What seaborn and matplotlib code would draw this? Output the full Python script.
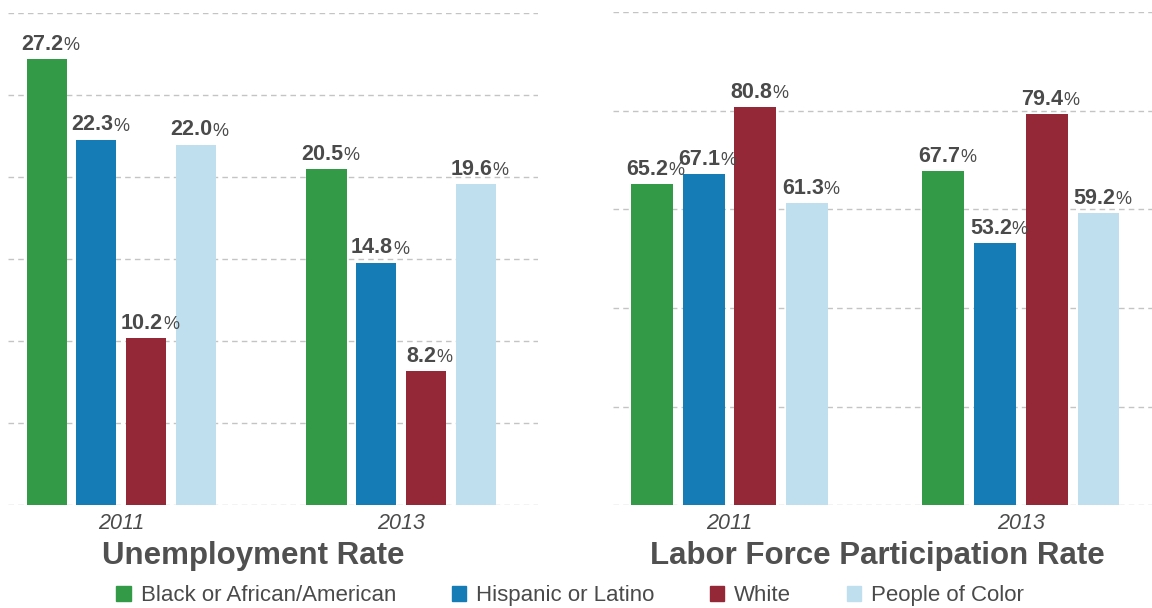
import matplotlib
matplotlib.use('Agg')
import matplotlib.pyplot as plt
import pandas as pd
import seaborn as sns

# данные
years = ['2011', '2013']
groups = ['Black or African/American', 'Hispanic or Latino', 'White', 'People of Color']
unemployment_2011 = [27.2, 22.3, 10.2, 22.0]
unemployment_2013 = [20.5, 14.8, 8.2, 19.6]
participation_2011 = [65.2, 67.1, 80.8, 61.3]
participation_2013 = [67.7, 53.2, 79.4, 59.2]

colors = ['#339a48', '#157cb5', '#952836', '#bfdfef']
text_color = '#4a4a4a'

sns.set_style('white')
plt.rcParams['font.family'] = ['Liberation Sans', 'DejaVu Sans']


def to_frame(values_2011, values_2013):
   """ Длинная таблица год / группа / значение """
   rows = []
   for year, values in zip(years, [values_2011, values_2013]):
      for group, v in zip(groups, values):
         rows.append({'year': year, 'group': group, 'value': v})
   return pd.DataFrame(rows)


def draw_panel(ax, df, ymax, step, xlim, title, title_x):
   sns.barplot(data=df, x='year', y='value', hue='group', order=years, hue_order=groups,
               palette=colors, width=0.71, gap=0.19, linewidth=0, saturation=1,
               legend=False, ax=ax)
   ax.set_ylim(0, ymax)
   ax.set_xlim(*xlim)
   ax.set_yticks(range(0, ymax + 1, step))
   ax.yaxis.grid(True, color='#c4c4c4', linestyle=(0, (4, 3)), linewidth=1)
   ax.set_axisbelow(True)
   ax.tick_params(axis='y', left=False, labelleft=False)
   ax.tick_params(axis='x', bottom=False, pad=2, labelsize=15.5, labelcolor=text_color)
   for lbl in ax.get_xticklabels():
      lbl.set_fontstyle('italic')
   sns.despine(ax=ax, left=True, bottom=True)
   ax.set_ylabel('')
   ax.set_xlabel(title, fontsize=22.5, fontweight='bold', color='#505050')
   ax.xaxis.set_label_coords(title_x, -0.072)

   # подписи значений: число жирным, знак % мельче
   for container in ax.containers:
      for bar in container:
         h = bar.get_height()
         xc = bar.get_x() + bar.get_width() / 2
         num = ax.annotate(f'{h:.1f}', xy=(xc, h), xytext=(-3, 3), textcoords='offset points',
                           ha='center', va='bottom', fontsize=15.5, fontweight='bold',
                           color=text_color)
         ax.annotate('%', xy=(1, 0.04), xycoords=num, ha='left', va='bottom',
                     fontsize=13, color=text_color)


fig = plt.figure(figsize=(11.52, 6.08), dpi=100)
ax1 = fig.add_axes([0.007, 0.169, 0.460, 0.809])
ax2 = fig.add_axes([0.532, 0.169, 0.468, 0.811])

draw_panel(ax1, to_frame(unemployment_2011, unemployment_2013), 30, 5,
           (-0.404, 1.489), 'Unemployment Rate', 0.462)
draw_panel(ax2, to_frame(participation_2011, participation_2013), 100, 20,
           (-0.40, 1.45), 'Labor Force Participation Rate', 0.49)

handles = [plt.Rectangle((0, 0), 1, 1, color=c) for c in colors]
fig.legend(handles, groups, loc='lower center', bbox_to_anchor=(0.495, -0.03), ncol=4,
           frameon=False, fontsize=16, labelcolor=text_color, handlelength=0.65,
           handleheight=0.65, handletextpad=0.45, columnspacing=2.5)

fig.savefig('out.png', dpi=100)
